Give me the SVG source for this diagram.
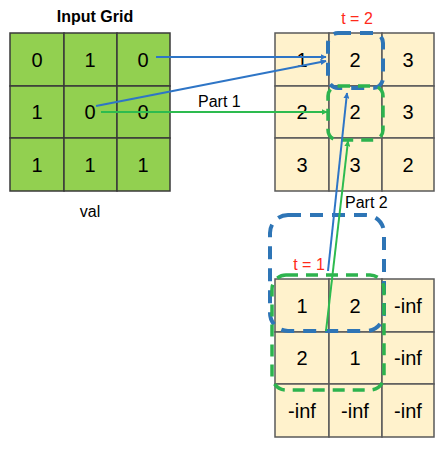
<svg xmlns="http://www.w3.org/2000/svg" width="448" height="449" viewBox="0 0 448 449">
<defs>
<style>
.g{fill:#92D050;stroke:#3a3a3a;stroke-width:1.5}
.b{fill:#FFF2CC;stroke:#595959;stroke-width:1.5}
.n{font-family:"Liberation Sans","DejaVu Sans",sans-serif;font-size:20px;fill:#000;text-anchor:middle}
.lbl{font-family:"Liberation Sans","DejaVu Sans",sans-serif;font-size:16px;fill:#000}
.red{font-family:"Liberation Sans","DejaVu Sans",sans-serif;font-size:16px;fill:#FF2A1A;text-anchor:middle}
.bl{stroke:#2E75C6;stroke-width:2;fill:none}
.gr{stroke:#2DBB4F;stroke-width:2;fill:none}
.bd{stroke:#2E75B6;stroke-width:4;fill:none;stroke-dasharray:13 9}
.gd{stroke:#2DB34E;stroke-width:3.5;fill:none;stroke-dasharray:12 8}
</style>
<marker id="ab" viewBox="0 0 10 10" refX="9" refY="5" markerWidth="6" markerHeight="6" orient="auto" markerUnits="userSpaceOnUse"><path d="M0,0 L10,5 L0,10 z" fill="#2E75C6"/></marker>
<marker id="ag" viewBox="0 0 10 10" refX="9" refY="5" markerWidth="6" markerHeight="6" orient="auto" markerUnits="userSpaceOnUse"><path d="M0,0 L10,5 L0,10 z" fill="#2DBB4F"/></marker>
</defs>

<g id="input-grid">
<text x="95" y="22" class="lbl" font-weight="bold" text-anchor="middle">Input Grid</text>
<rect class="g" x="10" y="33" width="54" height="53"/><rect class="g" x="64" y="33" width="53" height="53"/><rect class="g" x="117" y="33" width="53" height="53"/>
<rect class="g" x="10" y="86" width="54" height="52"/><rect class="g" x="64" y="86" width="53" height="52"/><rect class="g" x="117" y="86" width="53" height="52"/>
<rect class="g" x="10" y="138" width="54" height="53"/><rect class="g" x="64" y="138" width="53" height="53"/><rect class="g" x="117" y="138" width="53" height="53"/>
<text class="n" x="37" y="67">0</text><text class="n" x="90" y="67">1</text><text class="n" x="143" y="67">0</text>
<text class="n" x="37" y="119">1</text><text class="n" x="90" y="119">0</text><text class="n" x="143" y="119">0</text>
<text class="n" x="37" y="172">1</text><text class="n" x="90" y="172">1</text><text class="n" x="143" y="172">1</text>
<text x="90" y="217" class="lbl" text-anchor="middle">val</text>
</g>

<g id="top-grid">
<rect class="b" x="275" y="33" width="54" height="53"/><rect class="b" x="329" y="33" width="53" height="53"/><rect class="b" x="382" y="33" width="52" height="53"/>
<rect class="b" x="275" y="86" width="54" height="52"/><rect class="b" x="329" y="86" width="53" height="52"/><rect class="b" x="382" y="86" width="52" height="52"/>
<rect class="b" x="275" y="138" width="54" height="53"/><rect class="b" x="329" y="138" width="53" height="53"/><rect class="b" x="382" y="138" width="52" height="53"/>
<text class="n" x="302" y="67">1</text><text class="n" x="355" y="67">2</text><text class="n" x="408" y="67">3</text>
<text class="n" x="302" y="119">2</text><text class="n" x="355" y="119">2</text><text class="n" x="408" y="119">3</text>
<text class="n" x="302" y="172">3</text><text class="n" x="355" y="172">3</text><text class="n" x="408" y="172">2</text>
<text x="357" y="24" class="red">t = 2</text>
<rect class="bd" x="328" y="33" width="55" height="55" rx="10"/>
<rect class="gd" x="328" y="86" width="55" height="54" rx="10"/>
</g>

<g id="bottom-grid">
<rect class="b" x="275" y="279" width="54" height="53"/><rect class="b" x="329" y="279" width="53" height="53"/><rect class="b" x="382" y="279" width="52" height="53"/>
<rect class="b" x="275" y="332" width="54" height="52"/><rect class="b" x="329" y="332" width="53" height="52"/><rect class="b" x="382" y="332" width="52" height="52"/>
<rect class="b" x="275" y="384" width="54" height="53"/><rect class="b" x="329" y="384" width="53" height="53"/><rect class="b" x="382" y="384" width="52" height="53"/>
<text class="n" x="302" y="313">1</text><text class="n" x="355" y="313">2</text><text class="n" x="408" y="313">-inf</text>
<text class="n" x="302" y="365">2</text><text class="n" x="355" y="365">1</text><text class="n" x="408" y="365">-inf</text>
<text class="n" x="302" y="418">-inf</text><text class="n" x="355" y="418">-inf</text><text class="n" x="408" y="418">-inf</text>
<text x="309" y="270" class="red">t = 1</text>
<rect class="bd" x="270" y="215" width="114" height="116" rx="18"/>
<rect class="gd" x="272" y="275" width="112" height="115" rx="14"/>
</g>

<g id="connectors">
<line class="bl" x1="156" y1="57" x2="326" y2="57" marker-end="url(#ab)"/>
<line class="bl" x1="96" y1="106" x2="326" y2="61" marker-end="url(#ab)"/>
<line class="gr" x1="101" y1="112" x2="327" y2="112" marker-end="url(#ag)"/>
<line class="bl" x1="328" y1="271" x2="347" y2="93" marker-end="url(#ab)"/>
<line class="gr" x1="326" y1="331" x2="348" y2="141" marker-end="url(#ag)"/>
<text x="198" y="107" class="lbl">Part 1</text>
<text x="345" y="208" class="lbl">Part 2</text>
</g>
</svg>
